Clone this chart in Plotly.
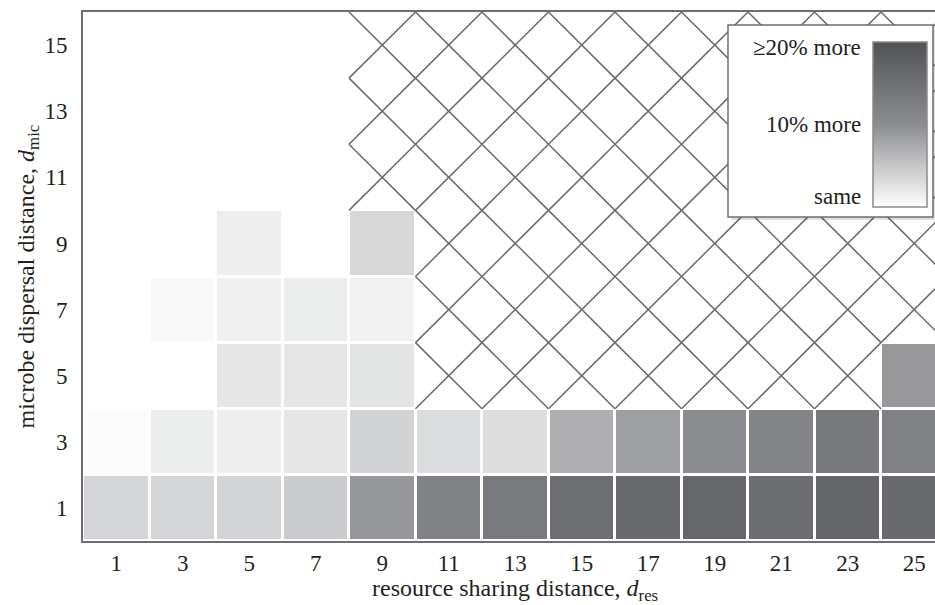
import plotly.graph_objects as go

# Grid of distances
d_res = [1, 3, 5, 7, 9, 11, 13, 15, 17, 19, 21, 23, 25]
d_mic = [1, 3, 5, 7, 9, 11, 13, 15]

# Percentage gain per (d_mic row, d_res column); None = combination not evaluated
N = None
gain_mic1 = [3.7, 3.7, 3.8, 4.5, 9.1, 12.0, 13.3, 15.3, 16.0, 16.5, 15.6, 16.9, 16.0]
gain_mic3 = [0.3, 1.7, 1.5, 2.3, 3.9, 3.1, 3.0, 7.0, 8.4, 10.2, 11.5, 13.5, 12.0]
gain_mic5 = [0, 0, 2.2, 2.2, 2.4, N, N, N, N, N, N, N, 9.0]
gain_mic7 = [0, 0.6, 1.3, 1.7, 1.2, N, N, N, N, N, N, N, N]
gain_mic9 = [0, 0, 1.5, 0, 3.5, N, N, N, N, N, N, N, N]
gain_mic11 = [0, 0, 0, 0, N, N, N, N, N, N, N, N, N]
gain_mic13 = [0, 0, 0, 0, N, N, N, N, N, N, N, N, N]
gain_mic15 = [0, 0, 0, 0, N, N, N, N, N, N, N, N, N]

# Colour-bar labels
scale_values = [20, 10, 0]
scale_labels = ["≥20% more", "10% more", "same"]

z = [gain_mic1, gain_mic3, gain_mic5, gain_mic7, gain_mic9,
     gain_mic11, gain_mic13, gain_mic15]

FONT = "Liberation Serif"
TXT = "#231f20"
AXIS = "#6d6e71"

W, H = 935, 605
ML, MR, MT, MB = 83, 0, 12, 64
PW, PH = W - ML - MR, H - MT - MB
ZMAX = 20

# Colour bar geometry (pixels)
cb_left, cb_right, cb_top, cb_bot = 873, 927, 42, 207
cb_len = cb_bot - cb_top
cb_yc = 1 - ((cb_top + cb_bot) / 2 - MT) / PH
cb_y0 = 1 - (cb_bot - MT) / PH
cb_lenp = cb_len / PH

fig = go.Figure()

fig.add_trace(go.Heatmap(
    x=d_res, y=d_mic, z=z,
    zmin=0, zmax=ZMAX,
    colorscale=[[0, "rgb(255,255,255)"], [0.5, "rgb(140,141,144)"], [1, "rgb(82,83,87)"]],
    xgap=3, ygap=3,
    hoverongaps=False,
    colorbar=dict(
        x=(cb_left - ML) / PW, xanchor="left", xpad=0,
        y=cb_yc, yanchor="middle", ypad=0,
        len=cb_len, lenmode="pixels",
        thickness=cb_right - cb_left, thicknessmode="pixels",
        showticklabels=False, ticks="",
        outlinecolor="#8a8b8d", outlinewidth=1.5,
    ),
))

# Cross-hatch over the cells that have no value: both diagonals of each cell
hx, hy = [], []
for j, yv in enumerate(d_mic):
    for i, xv in enumerate(d_res):
        if z[j][i] is None:
            hx += [xv - 1, xv + 1, None, xv - 1, xv + 1, None]
            hy += [yv - 1, yv + 1, None, yv + 1, yv - 1, None]
fig.add_trace(go.Scatter(
    x=hx, y=hy, mode="lines",
    line=dict(color="#6a6b6e", width=1.5),
    hoverinfo="skip", showlegend=False,
))

# Legend box behind the colour bar
bx0, bx1, by0, by1 = 728, 933, 25, 217
def px_x(p):
    return (p - ML) / PW
def px_y(p):
    return 1 - (p - MT) / PH

shapes = [
    dict(type="rect", xref="paper", yref="paper", layer="above",
         x0=px_x(bx0 + 3), x1=px_x(bx1 + 3), y0=px_y(by1 + 3), y1=px_y(by0 + 3),
         fillcolor="rgba(0,0,0,0.12)", line=dict(width=0)),
    dict(type="rect", xref="paper", yref="paper", layer="above",
         x0=px_x(bx0), x1=px_x(bx1), y0=px_y(by1), y1=px_y(by0),
         fillcolor="white", line=dict(color=AXIS, width=1.5)),
]

annotations = []
for v, t in zip(scale_values, scale_labels):
    yshift = -6 if v == ZMAX else (10 if v == 0 else 0)
    annotations.append(dict(
        xref="paper", yref="paper", x=px_x(863), xanchor="right",
        y=cb_y0 + v / ZMAX * cb_lenp, yanchor="middle", yshift=yshift,
        text=t, showarrow=False, font=dict(family=FONT, size=23, color=TXT),
    ))

# Axis titles
annotations.append(dict(
    xref="x", yref="paper", x=(d_res[0] + d_res[-1]) / 2, y=0, yshift=-32,
    xanchor="center", yanchor="top", showarrow=False,
    text="resource sharing distance, <i>d</i><sub>res</sub>",
    font=dict(family=FONT, size=24, color=TXT),
))
annotations.append(dict(
    xref="paper", yref="paper", x=0, xshift=-56, y=0.5,
    xanchor="center", yanchor="middle", textangle=-90, showarrow=False,
    text="microbe dispersal distance, <i>d</i><sub>mic</sub>",
    font=dict(family=FONT, size=24, color=TXT),
))

fig.update_layout(
    width=W, height=H,
    margin=dict(l=ML, r=MR, t=MT, b=MB),
    paper_bgcolor="white", plot_bgcolor="white",
    font=dict(family=FONT, size=23, color=TXT),
    showlegend=False,
    shapes=shapes,
    annotations=annotations,
    xaxis=dict(
        range=[0, PW / (66.5 / 2)], tickvals=d_res, ticktext=[str(v) for v in d_res],
        showgrid=False, zeroline=False, ticks="",
        showline=True, linecolor=AXIS, linewidth=2, mirror=True,
        ticklabelstandoff=0, tickfont=dict(family=FONT, size=23, color=TXT),
    ),
    yaxis=dict(
        range=[0, 16], tickvals=d_mic, ticktext=[str(v) for v in d_mic],
        showgrid=False, zeroline=False, ticks="",
        showline=True, linecolor=AXIS, linewidth=2,
        ticklabelstandoff=9, tickfont=dict(family=FONT, size=23, color=TXT),
    ),
)

fig.write_html("out.html")
